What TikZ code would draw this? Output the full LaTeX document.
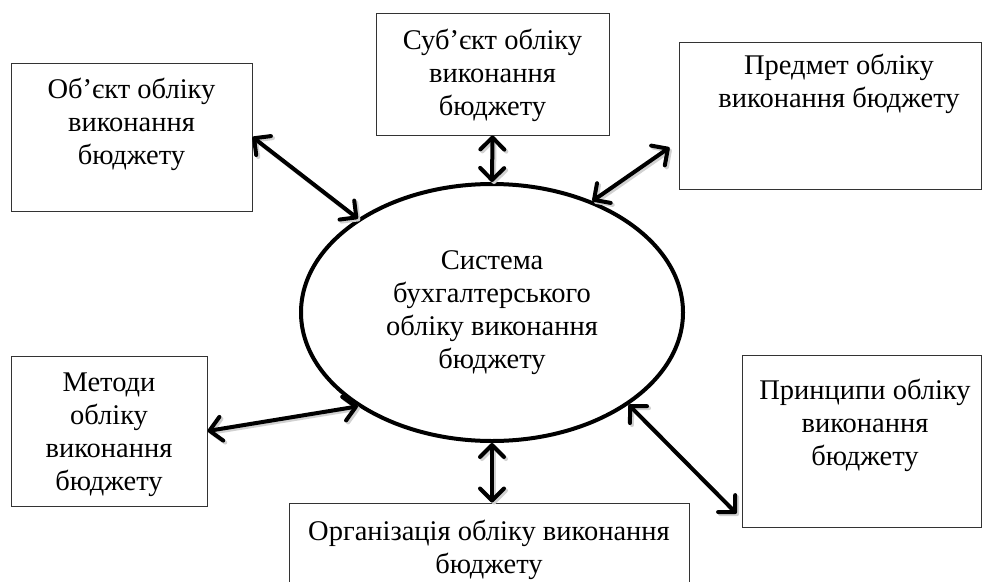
\documentclass[tikz,border=0pt]{standalone}
\usepackage{fontspec}
\setmainfont{Liberation Serif}
\usetikzlibrary{arrows.meta,shapes.geometric}
\begin{document}
\begin{tikzpicture}[x=1pt,y=-1pt,
  box/.style={draw=black!80, line width=1pt, inner sep=0pt},
  txt/.style={align=center, anchor=north, inner sep=0pt, font=\fontsize{28.5}{33}\selectfont},
  link/.style={line width=4pt, {Straight Barb[length=12pt,width=24pt,round]}-{Straight Barb[length=12pt,width=24pt,round]}},
  shade/.style={link, draw=black!18, transform canvas={xshift=2pt,yshift=-2pt}}
]
\useasboundingbox (0,0) rectangle (982,581);
\clip (0,0) rectangle (982,581);
\fill[white] (0,0) rectangle (982,581);

% boxes
\node[box, minimum width=241, minimum height=148] (b1) at (131.5,137) {};
\node[box, minimum width=233, minimum height=122] (b2) at (492.5,74) {};
\node[box, minimum width=302, minimum height=147] (b3) at (830,115.5) {};
\node[box, minimum width=196, minimum height=150] (b5) at (109,431) {};
\node[box, minimum width=239, minimum height=172] (b6) at (861.5,441) {};
\node[box, minimum width=400, minimum height=117] (b7) at (489,561.5) {};

% ellipse
\node[draw, ellipse, line width=4pt, minimum width=382, minimum height=257, inner sep=0pt,
      align=center, font=\fontsize{28.5}{33}\selectfont] (ell) at (492,312.5)
  {Система\\бухгалтерського\\обліку виконання\\бюджету};

% texts
\node[txt] (t1) at ([yshift=-12.9pt]b1.north) {\strut Об’єкт обліку\\виконання\\бюджету};
\node[txt] (t2) at ([yshift=-13.9pt]b2.north) {\strut Суб’єкт обліку\\виконання\\бюджету};
\node[txt] (t3) at ([xshift=9pt,yshift=-9.9pt]b3.north) {\strut Предмет обліку\\виконання бюджету};
\node[txt] (t5) at ([yshift=-12.9pt]b5.north) {\strut Методи\\обліку\\виконання\\бюджету};
\node[txt] (t6) at ([xshift=3.5pt,yshift=-21.9pt]b6.north) {\strut Принципи обліку\\виконання\\бюджету};
\node[txt] (t7) at ([yshift=-14.9pt]b7.north) {\strut Організація обліку виконання\\бюджету};

% connector ends
\coordinate (a3) at ([xshift=-9pt,yshift=42pt]b3.south west);
\coordinate (a6) at ([xshift=-5pt,yshift=14pt]b6.south west);
\coordinate (a7) at (ell.south |- b7.north);

% shadows
\draw[shade] (b1.east) -- (ell.145);
\draw[shade] (b2.south) -- (ell.north);
\draw[shade] (ell.48) -- (a3);
\draw[shade] (b5.east) -- (ell.215);
\draw[shade] (ell.south) -- (a7);
\draw[shade] (ell.326) -- (a6);

% connectors
\draw[link] (b1.east) -- (ell.145);
\draw[link] (b2.south) -- (ell.north);
\draw[link] (ell.48) -- (a3);
\draw[link] (b5.east) -- (ell.215);
\draw[link] (ell.south) -- (a7);
\draw[link] (ell.326) -- (a6);
\end{tikzpicture}
\end{document}
